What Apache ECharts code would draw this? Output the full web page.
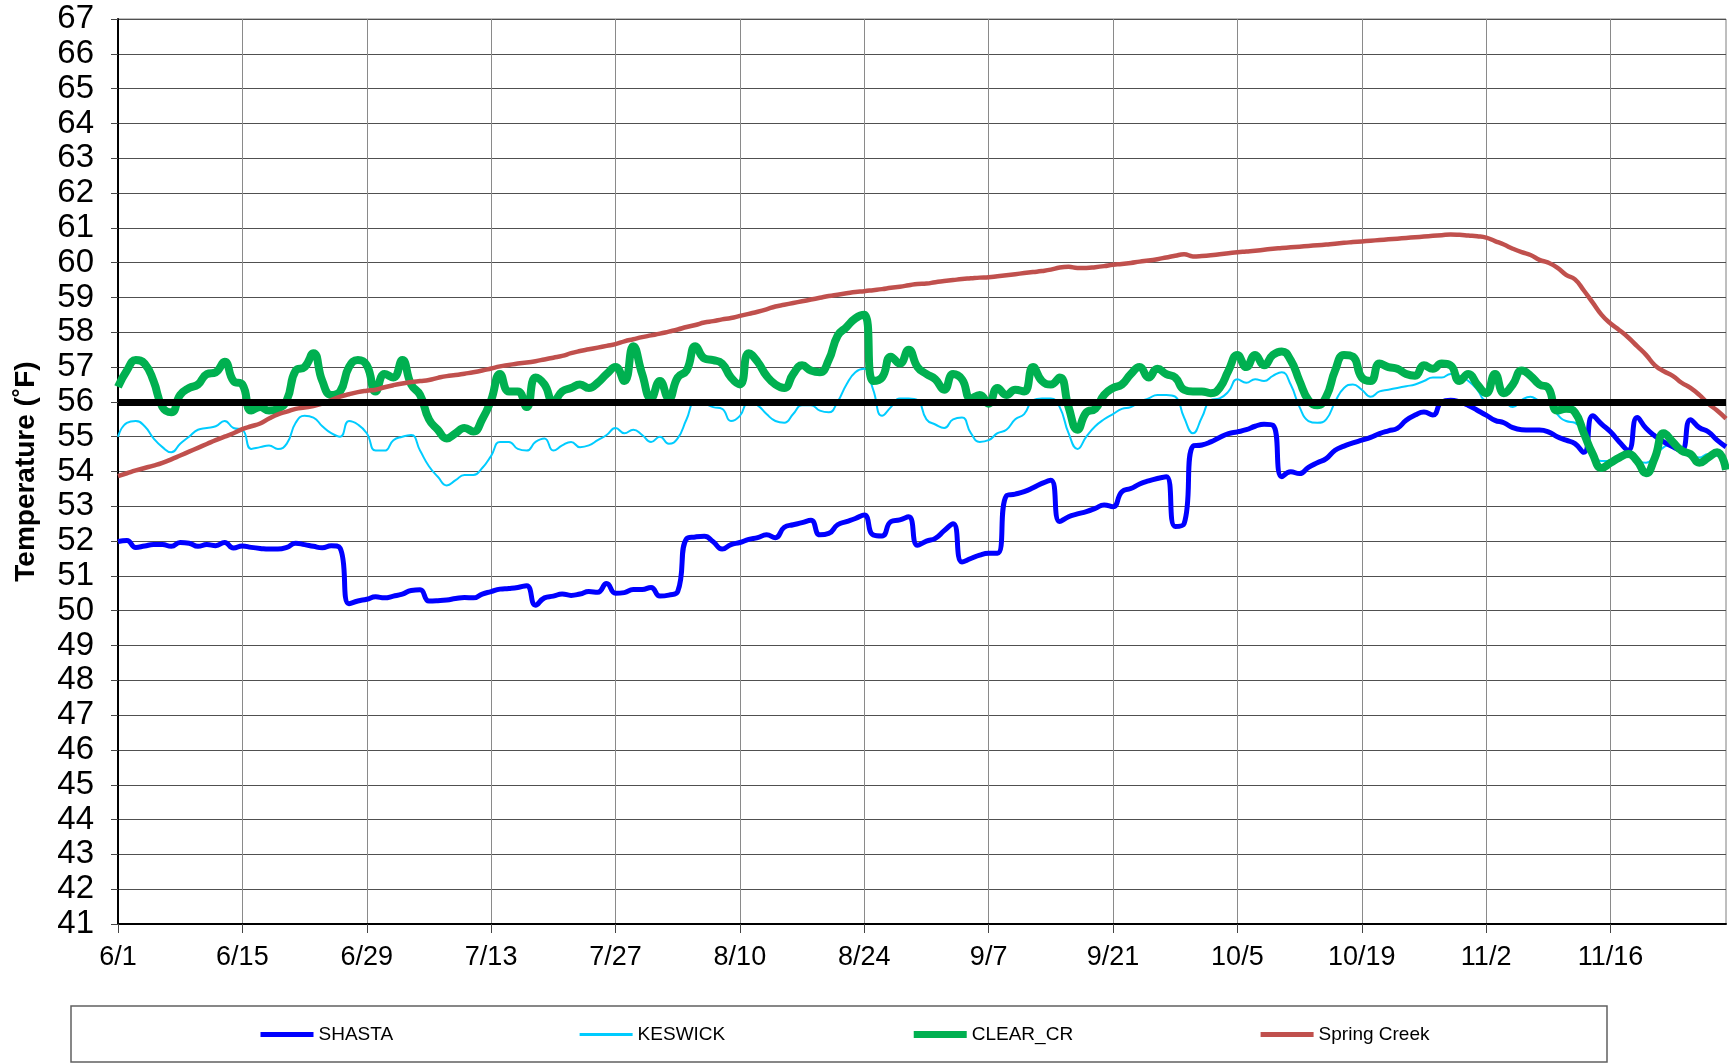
<!DOCTYPE html>
<html>
<head>
<meta charset="utf-8">
<title>Water temperature</title>
<script src="https://cdn.jsdelivr.net/npm/echarts/dist/echarts.min.js"></script>
<style>
    html, body { margin: 0; padding: 0; background: #fff; }
    #charts-main { width: 1729px; height: 1063px; }
</style>
</head>
<body>
<div id="charts-main"></div>
<script>
// daily values 6/1 .. 11/29
var shasta = [
    51.99, 52.02, 51.82, 51.86, 51.9, 51.9, 51.85, 51.96, 51.94, 51.85, 51.9, 51.87, 51.96, 51.8, 51.86, 51.82, 51.79, 51.77, 51.77, 51.82, 51.94, 51.9, 51.85,
    51.81, 51.87, 51.8, 50.2, 50.28, 50.33, 50.4, 50.37, 50.42, 50.48, 50.58, 50.6, 50.28, 50.29, 50.31, 50.35, 50.38, 50.37, 50.48, 50.55, 50.62, 50.64,
    50.67, 50.72, 50.16, 50.37, 50.42, 50.48, 50.44, 50.48, 50.55, 50.53, 50.78, 50.5, 50.52, 50.61, 50.61, 50.67, 50.42, 50.45, 50.55, 52.07, 52.12, 52.14, 51.98, 51.77,
    51.9, 51.96, 52.05, 52.1, 52.18, 52.1, 52.4, 52.47, 52.53, 52.6, 52.18, 52.22, 52.47, 52.56, 52.65, 52.75, 52.18, 52.15, 52.56, 52.61, 52.7, 51.88,
    52.0, 52.08, 52.3, 52.5, 51.4, 51.5, 51.6, 51.65, 51.65, 53.3, 53.35, 53.42, 53.53, 53.66, 53.75, 52.56, 52.7, 52.78, 52.85, 52.94, 53.04, 52.99,
    53.42, 53.51, 53.64, 53.73, 53.8, 53.85, 52.42, 52.5, 54.73, 54.76, 54.85, 54.98, 55.09, 55.14, 55.2, 55.3, 55.36, 55.33, 53.85, 53.99, 53.94, 54.12, 54.25,
    54.37, 54.61, 54.73, 54.82, 54.9, 54.98, 55.09, 55.17, 55.24, 55.47, 55.62, 55.71, 55.62, 56.0, 56.05, 56.0, 55.9, 55.76, 55.62, 55.47, 55.4, 55.26,
    55.2, 55.19, 55.19, 55.14, 55.0, 54.9, 54.8, 54.55, 55.6, 55.36, 55.14, 54.85, 54.61, 55.55, 55.24, 55.02, 54.85, 54.71, 54.61, 55.49, 55.26, 55.14, 54.9, 54.71
];
var keswick = [
    55.0, 55.4, 55.45, 55.3, 54.95, 54.7, 54.55, 54.8, 55.0, 55.2, 55.25, 55.3, 55.45, 55.25, 55.2, 54.65, 54.7, 54.75, 54.65, 54.8, 55.4, 55.6, 55.55,
    55.3, 55.1, 55.0, 55.45, 55.35, 55.1, 54.6, 54.6, 54.9, 55.0, 55.05, 54.6, 54.15, 53.85, 53.6, 53.75, 53.9, 53.9, 54.1, 54.45, 54.85, 54.85, 54.65,
    54.6, 54.85, 54.95, 54.6, 54.75, 54.85, 54.7, 54.75, 54.9, 55.05, 55.25, 55.1, 55.2, 55.05, 54.85, 55.0, 54.8, 54.95, 55.5, 56.0, 55.95, 55.85,
    55.8, 55.45, 55.6, 56.0, 55.9, 55.65, 55.45, 55.4, 55.65, 55.9, 55.9, 55.75, 55.7, 56.0, 56.5, 56.85, 56.95, 56.35, 55.6, 55.85, 56.1, 56.1, 56.05,
    55.5, 55.35, 55.25, 55.5, 55.55, 55.1, 54.85, 54.9, 55.1, 55.2, 55.5, 55.65, 56.05, 56.1, 56.1, 55.85, 55.1, 54.65, 55.0, 55.3, 55.5, 55.65,
    55.8, 55.85, 56.0, 56.1, 56.2, 56.2, 56.15, 55.55, 55.1, 55.55, 56.05, 56.1, 56.3, 56.65, 56.55, 56.65, 56.6, 56.75, 56.85, 56.5, 55.85, 55.45, 55.4,
    55.5, 56.0, 56.4, 56.5, 56.35, 56.15, 56.3, 56.35, 56.4, 56.45, 56.5, 56.6, 56.7, 56.7, 56.8, 56.75, 56.6, 56.35, 56.05, 56.05, 56.0, 55.85,
    56.05, 56.15, 56.05, 56.05, 55.65, 55.45, 55.4, 55.1, 54.6, 54.3, 54.3, 54.45, 54.5, 54.3, 54.25, 54.45, 54.7, 54.8, 54.6, 54.5, 54.4, 54.5, 54.45, 54.3
];
var clearCr = [
    56.43, 56.9, 57.2, 57.1, 56.6, 55.85, 55.7, 56.2, 56.4, 56.5, 56.8, 56.85, 57.15, 56.6, 56.5, 55.75, 55.85, 55.75, 55.8, 56.05, 56.9, 57.0, 57.4,
    56.6, 56.2, 56.3, 57.0, 57.2, 57.05, 56.3, 56.8, 56.7, 57.2, 56.5, 56.2, 55.5, 55.2, 54.95, 55.1, 55.25, 55.15, 55.5, 56.05, 56.8, 56.3, 56.3,
    55.85, 56.7, 56.5, 56.0, 56.3, 56.4, 56.5, 56.4, 56.55, 56.8, 57.0, 56.6, 57.6, 56.8, 56.1, 56.6, 56.1, 56.7, 56.9, 57.6, 57.25, 57.2,
    57.1, 56.7, 56.5, 57.4, 57.15, 56.75, 56.5, 56.4, 56.8, 57.05, 56.9, 56.85, 57.2, 57.9, 58.15, 58.4, 58.5, 56.6, 56.7, 57.3, 57.1, 57.5, 57.0,
    56.8, 56.65, 56.35, 56.8, 56.65, 56.1, 56.2, 55.95, 56.4, 56.2, 56.35, 56.3, 57.0, 56.6, 56.5, 56.7, 55.85, 55.2, 55.7, 55.8, 56.2, 56.4,
    56.5, 56.8, 57.0, 56.7, 56.95, 56.8, 56.7, 56.35, 56.3, 56.3, 56.25, 56.4, 56.9, 57.35, 57.0, 57.35, 57.05, 57.35, 57.45, 57.2, 56.6, 56.05, 55.9,
    56.15, 56.9, 57.35, 57.3, 56.7, 56.6, 57.1, 57.0, 56.95, 56.8, 56.75, 57.05, 56.95, 57.1, 57.05, 56.6, 56.8, 56.5, 56.25, 56.8, 56.25, 56.5,
    56.9, 56.75, 56.5, 56.4, 55.75, 55.8, 55.7, 55.1, 54.5, 54.1, 54.25, 54.4, 54.5, 54.3, 53.95, 54.4, 55.1, 54.85, 54.6, 54.5, 54.25, 54.4, 54.55, 54.05
];
var springCreek = [
    53.87, 53.95, 54.03, 54.1, 54.17, 54.25, 54.35, 54.46, 54.57, 54.68, 54.79, 54.9, 55.0, 55.1, 55.22, 55.3, 55.38, 55.52, 55.64, 55.72, 55.8, 55.84, 55.88,
    55.95, 56.05, 56.15, 56.22, 56.28, 56.32, 56.35, 56.42, 56.48, 56.53, 56.57, 56.6, 56.63, 56.69, 56.74, 56.77, 56.81, 56.85, 56.9, 56.96, 57.02, 57.06, 57.1,
    57.13, 57.17, 57.22, 57.27, 57.32, 57.4, 57.46, 57.51, 57.56, 57.61, 57.66, 57.74, 57.8, 57.86, 57.91, 57.96, 58.02, 58.08, 58.15, 58.21, 58.28, 58.32,
    58.37, 58.41, 58.47, 58.53, 58.59, 58.66, 58.74, 58.79, 58.84, 58.89, 58.94, 58.99, 59.04, 59.08, 59.12, 59.16, 59.18, 59.21, 59.24, 59.28, 59.31, 59.35, 59.39,
    59.4, 59.44, 59.47, 59.5, 59.53, 59.55, 59.57, 59.58, 59.61, 59.64, 59.67, 59.7, 59.73, 59.76, 59.8, 59.86, 59.88, 59.85, 59.85, 59.87, 59.9, 59.94,
    59.96, 59.99, 60.03, 60.06, 60.1, 60.15, 60.2, 60.24, 60.18, 60.19, 60.21, 60.24, 60.27, 60.3, 60.32, 60.34, 60.37, 60.4, 60.42, 60.44, 60.46, 60.48, 60.5,
    60.52, 60.54, 60.57, 60.59, 60.61, 60.63, 60.65, 60.67, 60.69, 60.71, 60.73, 60.75, 60.77, 60.79, 60.81, 60.8, 60.78, 60.76, 60.72, 60.62, 60.52, 60.4,
    60.3, 60.22, 60.08, 60.0, 59.86, 59.65, 59.52, 59.2, 58.85, 58.5, 58.25, 58.06, 57.85, 57.6, 57.35, 57.05, 56.88, 56.75, 56.55, 56.4, 56.2, 55.95, 55.75, 55.52
];
var limitTemp = 56;          // the black criterion line
var yMin = 41, yMax = 67;
var tickEvery = 14;          // one date label every two weeks

// m/d labels, one per day from 6/1
function dayLabels(n) {
    let out = [];
    let d = new Date(2001, 5, 1);
    for (let i = 0; i < n; i++) {
        out.push((d.getMonth() + 1) + '/' + d.getDate());
        d.setDate(d.getDate() + 1);
    }
    return out;
}
var days = dayLabels(shasta.length);

var font = "'Liberation Sans', Arial, sans-serif";
var showTick = function (idx) { return idx % tickEvery === 0; };

var myChart = echarts.init(document.getElementById('charts-main'));

var option = {
    backgroundColor: '#fff',
    animation: false,
    grid: {
        left: 118,
        right: 3,
        top: 19,
        bottom: 139,
        show: true,
        borderColor: '#7f7f7f',
        borderWidth: 1
    },
    legend: {
        // plain line icons, no symbol dot
        data: [
            { name: 'SHASTA', lineStyle: { width: 5 } },
            { name: 'KESWICK', lineStyle: { width: 3 } },
            { name: 'CLEAR_CR', lineStyle: { width: 7 } },
            { name: 'Spring Creek', lineStyle: { width: 5 } }
        ],
        left: 258,
        top: 1025,
        padding: 0,
        itemGap: 185,
        itemWidth: 53,
        itemHeight: 12,
        itemStyle: { opacity: 0 },
        textStyle: { fontFamily: font, fontSize: 19, color: '#000' }
    },
    xAxis: {
        type: 'category',
        boundaryGap: false,
        data: days,
        axisLine: { lineStyle: { color: '#000', width: 2 } },
        axisTick: { show: true, length: 9, interval: showTick, lineStyle: { color: '#444' } },
        axisLabel: {
            interval: showTick,
            margin: 20,
            fontFamily: font,
            fontSize: 27,
            color: '#000'
        },
        splitLine: { show: true, interval: showTick, lineStyle: { color: '#8a8a8a', width: 1 } }
    },
    yAxis: {
        type: 'value',
        min: yMin,
        max: yMax,
        interval: 1,
        name: 'Temperature (˚F)',
        nameLocation: 'middle',
        nameGap: 78,
        nameTextStyle: { fontFamily: font, fontSize: 28, fontWeight: 'bold', color: '#000' },
        axisLine: { show: true, lineStyle: { color: '#000', width: 2 } },
        axisTick: { show: true, length: 7, lineStyle: { color: '#444' } },
        axisLabel: { margin: 24, fontFamily: font, fontSize: 33, color: '#000' },
        splitLine: { show: true, lineStyle: { color: '#505050', width: 1 } }
    },
    series: [
        {
            name: 'KESWICK', type: 'line', data: keswick, smooth: true,
            symbol: 'none', color: '#00CCFF', lineStyle: { width: 2 }
        },
        {
            name: 'SHASTA', type: 'line', data: shasta, smooth: true,
            symbol: 'none', color: '#0000FF', lineStyle: { width: 5 }
        },
        {
            name: 'CLEAR_CR', type: 'line', data: clearCr, smooth: true,
            symbol: 'none', color: '#00B050', lineStyle: { width: 8 }
        },
        {
            name: 'Spring Creek', type: 'line', data: springCreek, smooth: true,
            symbol: 'none', color: '#C0504D', lineStyle: { width: 4.5 }
        },
        {
            // 56 degree line, not in the legend
            name: 'limit', type: 'line', data: [], z: 10,
            markLine: {
                silent: true,
                symbol: 'none',
                label: { show: false },
                lineStyle: { color: '#000', width: 7, type: 'solid' },
                data: [{ yAxis: limitTemp }]
            }
        }
    ],
    graphic: [{
        type: 'rect',
        z: -1,
        shape: { x: 71, y: 1006, width: 1536, height: 56 },
        style: { fill: 'none', stroke: '#606060', lineWidth: 1.5 }
    }]
};
myChart.setOption(option);
</script>
</body>
</html>
